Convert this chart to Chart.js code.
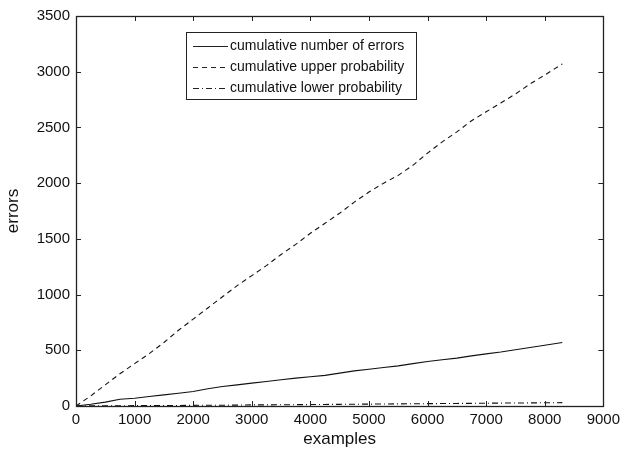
<!DOCTYPE html>
<html>
<head>
<meta charset="utf-8">
<script src="https://cdn.jsdelivr.net/npm/chart.js@4/dist/chart.umd.min.js"></script>
<style>
  html, body { margin: 0; padding: 0; background: #fff; }
  #wrap { width: 625px; height: 457px; }
</style>
</head>
<body>
<div id="wrap"><canvas id="chart" width="625" height="457"></canvas></div>
<script>
// values
const examples = [0, 250, 500, 750, 1000, 1250, 1500, 1750, 2000, 2250, 2500, 2750, 3000, 3250, 3500, 3750, 4000,
    4250, 4500, 4750, 5000, 5250, 5500, 5750, 6000, 6250, 6500, 6750, 7000, 7250, 7500, 7750, 8000, 8300];
const cumErrors = [0, 15, 35, 60, 70, 85, 100, 115, 130, 155, 175, 190, 205, 220, 235, 250, 262,
    275, 295, 315, 330, 345, 360, 380, 400, 415, 430, 450, 468, 485, 505, 525, 545, 570];
const cumUpper = [0, 90, 190, 290, 380, 470, 570, 680, 780, 880, 980, 1080, 1170, 1260, 1360, 1450, 1550,
    1640, 1730, 1830, 1920, 2000, 2070, 2160, 2270, 2370, 2460, 2560, 2640, 2720, 2800, 2890, 2970, 3070];
const cumLower = [0, 1, 2, 2, 3, 4, 4, 5, 6, 7, 7, 8, 10, 10, 11, 12, 13,
    14, 15, 16, 17, 18, 19, 20, 21, 22, 23, 24, 25, 26, 27, 28, 29, 30];
const seriesNames = ['cumulative number of errors', 'cumulative upper probability', 'cumulative lower probability'];
const xTicks = [0, 1000, 2000, 3000, 4000, 5000, 6000, 7000, 8000, 9000];
const yTicks = [0, 500, 1000, 1500, 2000, 2500, 3000, 3500];

const FONT = 'Arial, "Liberation Sans", Helvetica, sans-serif';
const pts = ys => examples.map((x, i) => ({ x: x, y: ys[i] }));

// box + inward ticks on all four sides, like the matlab figure
const boxPlugin = {
    id: 'box',
    afterDraw(chart) {
        const { ctx, chartArea: a, scales } = chart;
        ctx.save();
        ctx.strokeStyle = '#222';
        ctx.lineWidth = 1;
        ctx.beginPath();
        xTicks.forEach(v => {
            const px = Math.round(scales.x.getPixelForValue(v)) + 0.5;
            ctx.moveTo(px, a.bottom); ctx.lineTo(px, a.bottom - 5);
            ctx.moveTo(px, a.top); ctx.lineTo(px, a.top + 5);
        });
        yTicks.forEach(v => {
            const py = Math.round(scales.y.getPixelForValue(v)) + 0.5;
            ctx.moveTo(a.left, py); ctx.lineTo(a.left + 5, py);
            ctx.moveTo(a.right, py); ctx.lineTo(a.right - 5, py);
        });
        ctx.stroke();
        ctx.lineWidth = 1.3;
        ctx.strokeRect(Math.round(a.left) + 0.5, Math.round(a.top) + 0.5, Math.round(a.right - a.left), Math.round(a.bottom - a.top));
        ctx.restore();
    }
};

// legend box inside the axes
const legendPlugin = {
    id: 'boxLegend',
    afterDraw(chart) {
        const { ctx, chartArea: a } = chart;
        const left = a.left + 110, top = a.top + 16, w = 230, h = 67;
        ctx.save();
        ctx.fillStyle = '#fff';
        ctx.fillRect(left, top, w, h);
        ctx.strokeStyle = '#222';
        ctx.lineWidth = 1;
        ctx.strokeRect(left + 0.5, top + 0.5, w, h);
        ctx.font = '14px ' + FONT;
        ctx.textBaseline = 'middle';
        chart.data.datasets.forEach((ds, i) => {
            const y = top + 14 + i * 21 + 0.5;
            ctx.setLineDash(ds.borderDash || []);
            ctx.beginPath();
            ctx.moveTo(left + 7, y);
            ctx.lineTo(left + 42, y);
            ctx.stroke();
            ctx.setLineDash([]);
            ctx.fillStyle = '#111';
            ctx.fillText(ds.label, left + 44, y);
        });
        ctx.restore();
    }
};

new Chart(document.getElementById('chart'), {
    type: 'line',
    data: {
        datasets: [
            { label: seriesNames[0], data: pts(cumErrors), borderColor: '#111', borderWidth: 1.1, pointRadius: 0 },
            { label: seriesNames[1], data: pts(cumUpper), borderColor: '#111', borderWidth: 1.1, pointRadius: 0, borderDash: [5, 4] },
            { label: seriesNames[2], data: pts(cumLower), borderColor: '#111', borderWidth: 1.1, pointRadius: 0, borderDash: [6, 3, 1, 3] }
        ]
    },
    options: {
        responsive: false,
        animation: false,
        layout: { padding: { top: 16, right: 18, left: 0, bottom: 0 } },
        plugins: { legend: { display: false }, tooltip: { enabled: false } },
        scales: {
            x: {
                type: 'linear', min: 0, max: 9000,
                afterBuildTicks: s => { s.ticks = xTicks.map(v => ({ value: v })); },
                afterFit: s => { s.height = 51; },
                grid: { display: false, drawTicks: false },
                border: { display: false },
                ticks: { color: '#111', font: { family: FONT, size: 15 }, padding: 5, maxRotation: 0, autoSkip: false,
                    callback: v => String(v) },
                title: { display: true, text: 'examples', color: '#111', font: { family: FONT, size: 17 }, padding: { top: 1, bottom: 7 } }
            },
            y: {
                type: 'linear', min: 0, max: 3500,
                afterBuildTicks: s => { s.ticks = yTicks.map(v => ({ value: v })); },
                afterFit: s => { s.width = 76; },
                grid: { display: false, drawTicks: false },
                border: { display: false },
                ticks: { color: '#111', font: { family: FONT, size: 15 }, padding: 6, callback: v => String(v) },
                title: { display: true, text: 'errors', color: '#111', font: { family: FONT, size: 17 }, padding: { top: 3, bottom: 8 } }
            }
        }
    },
    plugins: [boxPlugin, legendPlugin]
});
</script>
</body>
</html>
